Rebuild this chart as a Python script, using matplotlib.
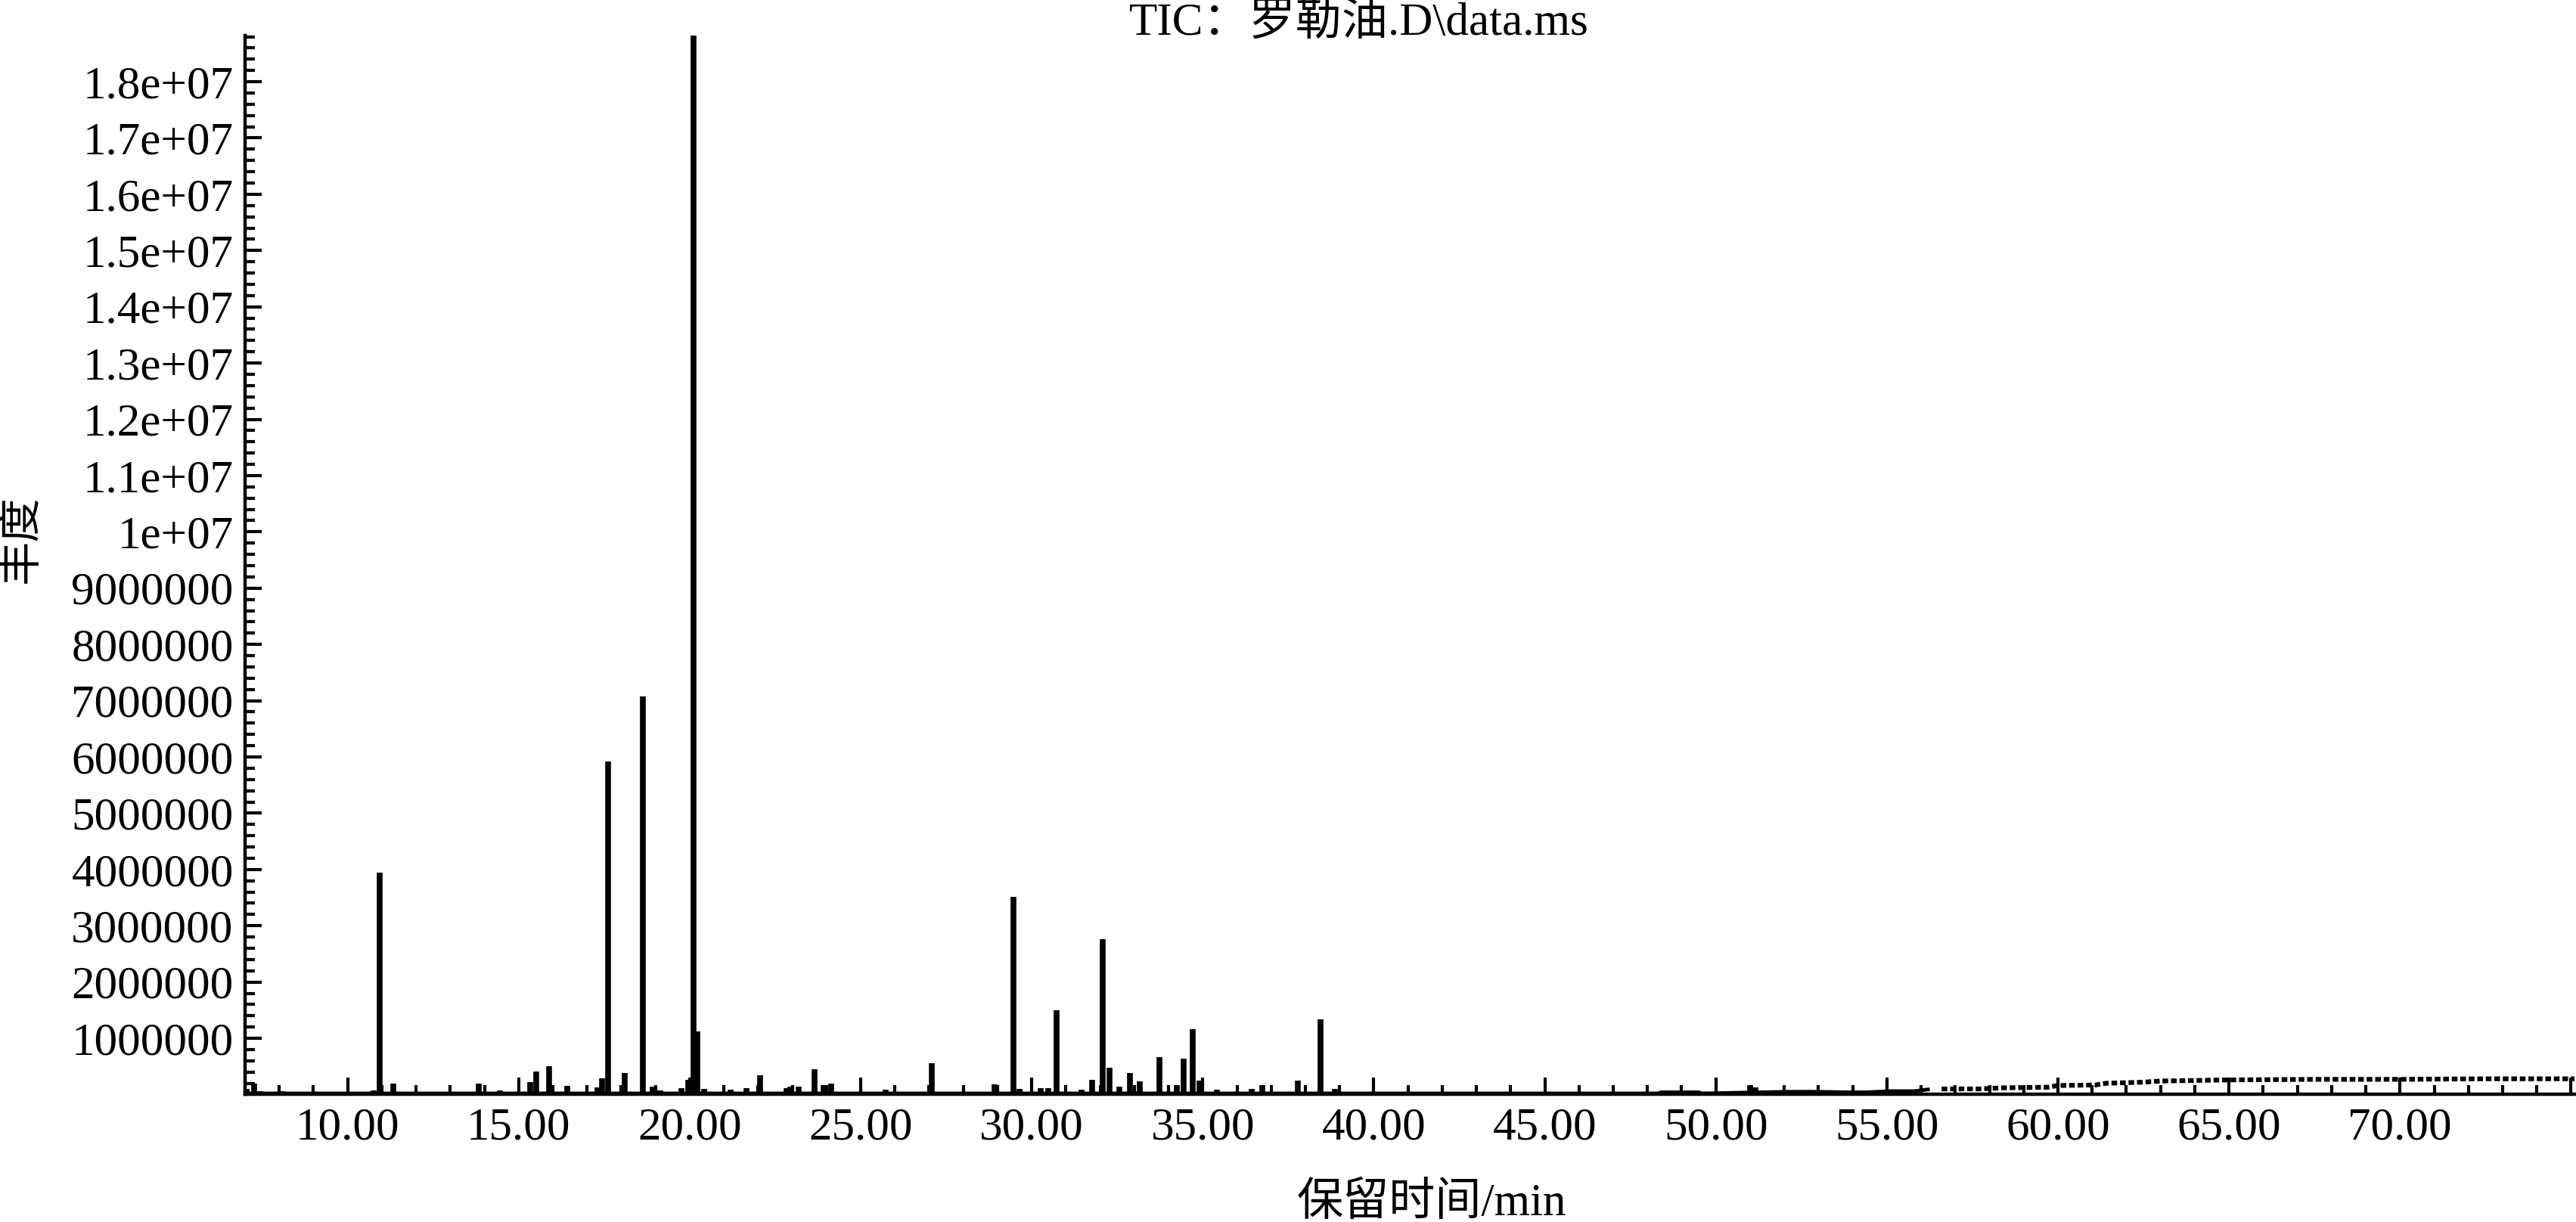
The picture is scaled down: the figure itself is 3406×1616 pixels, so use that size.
import matplotlib
matplotlib.use('Agg')
import matplotlib.pyplot as plt
from matplotlib.ticker import FixedLocator, MultipleLocator
import numpy as np

plt.rcParams['font.family'] = ['Liberation Serif', 'Noto Sans CJK SC']

# TIC peaks: retention time (min), abundance (x1e6)
peak_rt = [7.05, 7.26, 7.45, 8.08, 9.45, 9.65, 10.77, 10.93, 11.33, 11.5,
           13.54, 13.83, 14.45, 15.33, 15.52, 15.88, 16.43, 17.3, 17.44, 17.61,
           18.1, 18.63, 18.92, 19.14, 19.76, 19.95, 20.11, 20.22, 20.42, 21.19,
           21.66, 22.06, 22.83, 22.94, 23.19, 23.65, 23.92, 24.14, 24.6, 25.73,
           26.3, 27.08, 27.5, 28.92, 29.47, 29.65, 30.27, 30.49, 30.73, 31.46,
           31.77, 32.08, 32.28, 32.57, 32.88, 33.16, 33.5, 33.74, 34.25, 34.45,
           34.71, 34.9, 35.42, 35.7, 36.44, 36.75, 37.2, 37.77, 38.45, 38.87,
           39.3, 40.7, 43.3, 47.2, 51.0, 51.15, 51.8, 52.4]
peak_abund = [0.10, 0.19, 0.06, 0.06, 0.05, 0.05, 0.07, 3.95, 0.19, 0.05,
              0.05, 0.19, 0.07, 0.22, 0.41, 0.51, 0.16, 0.13, 0.29, 5.92,
              0.38, 7.07, 0.14, 0.07, 0.12, 0.26, 19.5, 1.12, 0.10, 0.08,
              0.12, 0.34, 0.12, 0.14, 0.145, 0.45, 0.17, 0.20, 0.05, 0.08,
              0.05, 0.56, 0.05, 0.18, 3.51, 0.10, 0.12, 0.12, 1.50, 0.08,
              0.26, 2.76, 0.47, 0.145, 0.38, 0.235, 0.05, 0.67, 0.17, 0.64,
              1.16, 0.25, 0.08, 0.05, 0.10, 0.17, 0.05, 0.25, 1.33, 0.10,
              0.05, 0.05, 0.03, 0.05, 0.17, 0.13, 0.05, 0.05]

# baseline (column bleed rising at the end of the run)
base_rt = [7.0, 40.0, 48.3, 48.4, 49.5, 49.6, 52.2, 52.8, 53.9, 54.4,
           55.1, 55.8, 56.2, 56.6, 57.7, 58.4, 59.7, 60.0, 61.1, 61.4,
           62.5, 63.0, 64.0, 65.0, 67.5, 70.0, 72.5, 75.1]
base_abund = [0.02, 0.02, 0.02, 0.04, 0.04, 0.02, 0.05, 0.05, 0.04, 0.04,
              0.06, 0.06, 0.09, 0.10, 0.10, 0.12, 0.13, 0.16, 0.17, 0.20,
              0.22, 0.24, 0.25, 0.26, 0.27, 0.27, 0.28, 0.28]

xticks = [10, 15, 20, 25, 30, 35, 40, 45, 50, 55, 60, 65, 70, 75]
xtick_labels = ['10.00', '15.00', '20.00', '25.00', '30.00', '35.00', '40.00',
                '45.00', '50.00', '55.00', '60.00', '65.00', '70.00', '']
yticks = [1e6, 2e6, 3e6, 4e6, 5e6, 6e6, 7e6, 8e6, 9e6, 1e7, 1.1e7, 1.2e7,
          1.3e7, 1.4e7, 1.5e7, 1.6e7, 1.7e7, 1.8e7]
ytick_labels = ['1000000', '2000000', '3000000', '4000000', '5000000',
                '6000000', '7000000', '8000000', '9000000', '1e+07', '1.1e+07',
                '1.2e+07', '1.3e+07', '1.4e+07', '1.5e+07', '1.6e+07',
                '1.7e+07', '1.8e+07']

rt = np.array(peak_rt)
ab = np.array(peak_abund) * 1e6
brt = np.array(base_rt)
bab = np.array(base_abund) * 1e6

fig = plt.figure(figsize=(34.06, 16.16), dpi=100)
ax = fig.add_axes([0.0951, 0.1043, 0.9043, 0.8666])

ax.vlines(rt, 0, ab, color='black', linewidth=5.5)
solid = brt <= 56.2
ax.plot(brt[solid], bab[solid], color='black', linewidth=3.5)
ax.plot(brt[~solid], bab[~solid], color='black', linewidth=4.5,
        linestyle=(0, (1.2, 0.6)))

ax.set_xlim(7.0, 75.1)
ax.set_ylim(0, 1.882e7)

for s in ['top', 'right']:
    ax.spines[s].set_visible(False)
for s in ['left', 'bottom']:
    ax.spines[s].set_linewidth(3.2)

ax.xaxis.set_major_locator(FixedLocator(xticks))
ax.set_xticklabels(xtick_labels)
ax.xaxis.set_minor_locator(MultipleLocator(1))
ax.yaxis.set_major_locator(FixedLocator(yticks))
ax.set_yticklabels(ytick_labels)
ax.yaxis.set_minor_locator(MultipleLocator(2e5))

ax.tick_params(which='both', direction='in', width=3.0, labelsize=44)
ax.tick_params(which='major', length=16)
ax.tick_params(which='minor', length=9)
ax.tick_params(axis='y', pad=11)
ax.tick_params(axis='x', pad=12)

fig.text(0.5276, 0.981, 'TIC：罗勒油.D\\data.ms', ha='center', va='center', fontsize=44)
fig.text(0.5558, 0.015, '保留时间/min', ha='center', va='center', fontsize=44)
fig.text(0.0085, 0.559, '丰度', ha='center', va='center', rotation=90, fontsize=42)

fig.savefig('out.png', dpi=100)
